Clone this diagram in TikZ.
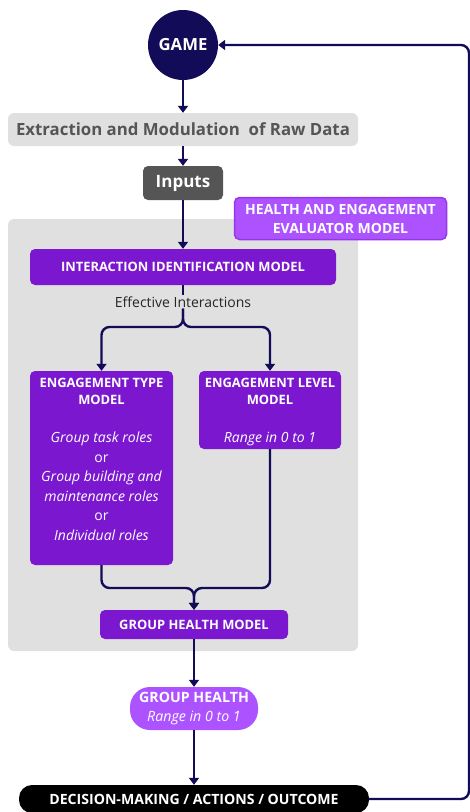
\documentclass[tikz,border=0pt]{standalone}
\usepackage{fontspec}
\setmainfont{Open Sans}
\usetikzlibrary{arrows.meta}
\definecolor{navy}{HTML}{120B57}
\definecolor{mpurple}{HTML}{7B18CF}
\definecolor{lpurple}{HTML}{AC53FF}
\definecolor{lpborder}{HTML}{9636EA}
\definecolor{bggray}{HTML}{E0E0E0}
\definecolor{dgray}{HTML}{555555}
\tikzset{
  conn/.style={draw=navy, line width=2.4pt, -{Triangle[length=7pt,width=10pt]}, rounded corners=8pt},
  plainconn/.style={draw=navy, line width=2.4pt, rounded corners=8pt},
  pbox/.style={fill=mpurple, rounded corners=5pt, inner sep=0pt},
  wtitle/.style={text=white, font=\bfseries\fontsize{12.9}{17}\selectfont, align=center, inner sep=0pt},
  witalic/.style={text=white, font=\itshape\fontsize{14}{19.5}\selectfont, align=center, inner sep=0pt},
}
\begin{document}
\begin{tikzpicture}[x=1pt, y=-1pt]
\useasboundingbox (0,0) rectangle (469,812);
% background region
\fill[bggray, rounded corners=6pt] (8,219) rectangle (358,651);

\node[circle, fill=navy, minimum size=70pt, inner sep=0pt, text=white, font=\bfseries\fontsize{16.7}{18}\selectfont] (game) at (183,45) {GAME};
\node[fill=bggray, rounded corners=6pt, minimum width=350pt, minimum height=33pt, inner sep=0pt, text=dgray, font=\bfseries\fontsize{16.8}{18}\selectfont] (extr) at (183,129.5) {Extraction and Modulation\ \ of Raw Data};
\node[fill=dgray, rounded corners=5pt, minimum width=80pt, minimum height=34pt, inner sep=0pt, text=white, font=\bfseries\fontsize{17}{18}\selectfont] (inputs) at (183,183) {Inputs};
\node[fill=lpurple, draw=lpborder, line width=1.5pt, rounded corners=5pt, minimum width=212pt, minimum height=42pt, inner sep=0pt, text=white, align=center, font=\bfseries\fontsize{14}{19}\selectfont] (hem) at (340.5,218.5) {HEALTH AND ENGAGEMENT\\EVALUATOR MODEL};
\node[pbox, minimum width=306pt, minimum height=36pt, wtitle] (iim) at (183,267) {INTERACTION IDENTIFICATION MODEL};
\node[inner sep=1pt, text=black!85, font=\fontsize{14}{15}\selectfont] (eff) at (183,302) {Effective Interactions};

\node[pbox, minimum width=143pt, minimum height=194pt] (etm) at (101.5,468) {};
\node[wtitle, anchor=north] (etmt) at (101.5,378) {ENGAGEMENT TYPE\\MODEL};
\node[witalic, anchor=north] (etmc) at (101.5,432) {Group task roles\\\upshape or\\Group building and\\maintenance roles\\\upshape or\\Individual roles};

\node[pbox, minimum width=142pt, minimum height=78pt] (elm) at (270,410) {};
\node[wtitle, anchor=north] (elmt) at (270,378) {ENGAGEMENT LEVEL\\MODEL};
\node[witalic, anchor=north] (elmc) at (270,432) {Range in 0 to 1};

\node[pbox, minimum width=188pt, minimum height=29pt, wtitle] (ghm) at (194,624.5) {GROUP HEALTH MODEL};

\node[fill=lpurple, rounded corners=20pt, minimum width=128pt, minimum height=43pt, inner sep=0pt, text=white, align=center, font=\fontsize{14.2}{19}\selectfont] (gh) at (194,708.5) {\bfseries GROUP HEALTH\\\itshape Range in 0 to 1};

\node[fill=black, rounded corners=13pt, minimum width=350pt, minimum height=28pt, inner sep=0pt, text=white, font=\bfseries\fontsize{14.1}{15}\selectfont] (dec) at (194,799) {DECISION-MAKING / ACTIONS / OUTCOME};

% connectors
\draw[conn] (game.south) -- (extr.north);
\draw[conn] (extr.south) -- (inputs.north);
\draw[conn] (inputs.south) -- (iim.north);
\draw[plainconn] (iim.south) -- (eff.north);
\coordinate (split) at (183,327);
\draw[conn] (eff.south) -- (split) -| (etm.north);
\draw[conn] (eff.south) -- (split) -| (elm.north);
\coordinate (merge) at (194,588);
\draw[conn] (etm.south) |- (merge) -- (ghm.north);
\draw[conn] (elm.south) |- (merge) -- (ghm.north);
\draw[conn] (ghm.south) -- (gh.north);
\draw[conn] (gh.south) -- (dec.north);
\coordinate (fbb) at (469,799);
\coordinate (fbt) at (469,45);
\draw[conn] (dec.east) -- (fbb) -- (fbt) -- (game.east);
\end{tikzpicture}
\end{document}
